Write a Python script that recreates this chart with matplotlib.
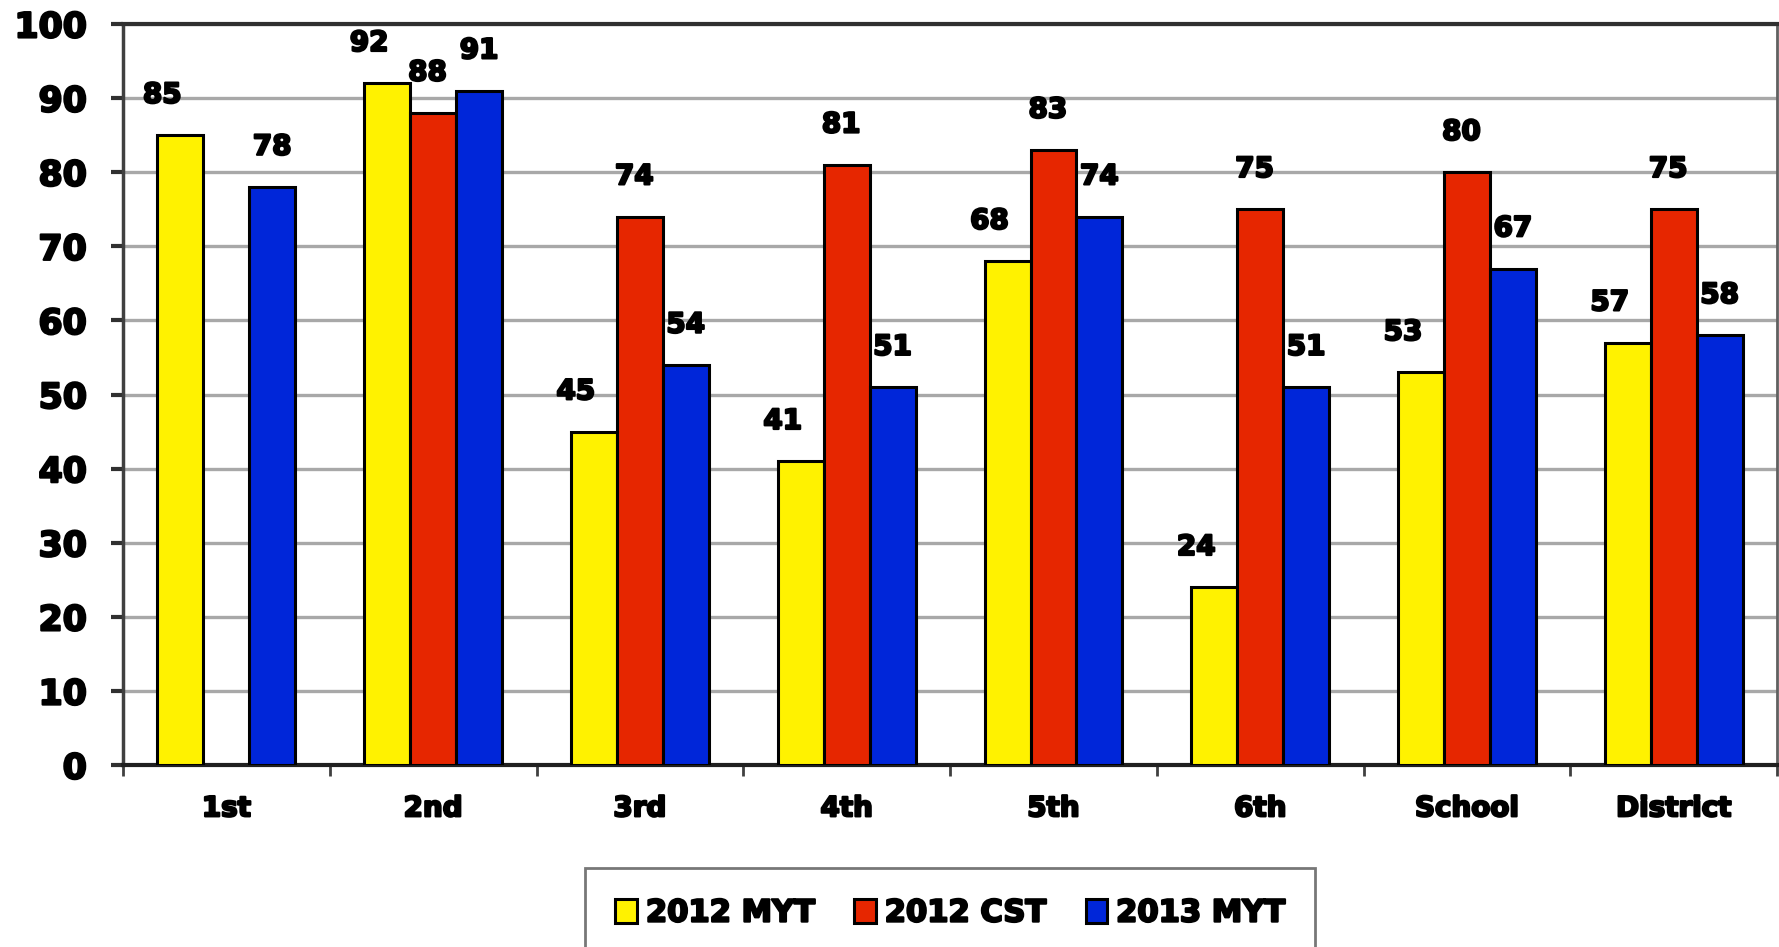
import matplotlib.pyplot as plt
import matplotlib.patheffects as pe
import numpy as np

categories = ['1st', '2nd', '3rd', '4th', '5th', '6th', 'School', 'District']
myt_2012 = [85, 92, 45, 41, 68, 24, 53, 57]
cst_2012 = [np.nan, 88, 74, 81, 83, 75, 80, 75]
myt_2013 = [78, 91, 54, 51, 74, 51, 67, 58]
series_names = ['2012 MYT', '2012 CST', '2013 MYT']
colors = ['#FFF200', '#E62600', '#0026D9']

plt.rcParams['font.family'] = 'DejaVu Sans'
plt.rcParams['font.weight'] = 'bold'

# thicken the text a little, the original uses a very heavy face
heavy = [pe.withStroke(linewidth=1.6, foreground='black')]

fig = plt.figure(figsize=(17.79, 9.47), dpi=100)
ax = fig.add_axes([0.0691, 0.192, 0.9299, 0.7827])

x = np.arange(len(categories)) + 0.5
width = 0.222
series = [myt_2012, cst_2012, myt_2013]
# label offsets in points (the original labels sit a bit left of the bars)
label_dx = [-13, -4, 0]

for i, (vals, name, c) in enumerate(zip(series, series_names, colors)):
    pos = x + (i - 1) * width
    ax.bar(pos, vals, width, color=c, edgecolor='black', linewidth=2.2,
           label=name, zorder=3)
    for px, v in zip(pos, vals):
        if np.isnan(v):
            continue
        ax.annotate(f'{v:.0f}', (px, v), xytext=(label_dx[i], 29),
                    textcoords='offset points', ha='center', va='center',
                    fontsize=20, fontweight='bold', zorder=4,
                    path_effects=heavy)

ax.set_xlim(0, len(categories))
ax.set_ylim(0, 100)
ax.set_yticks(np.arange(0, 101, 10))
ax.set_xticks(np.arange(0, len(categories) + 1))
ax.set_xticklabels([])
ax.set_xticks(x, minor=True)
ax.set_xticklabels(categories, minor=True, fontsize=20, fontweight='bold')
ax.tick_params(axis='x', which='minor', length=0, pad=21)
ax.tick_params(axis='x', which='major', length=8, width=2, color='#404040',
               direction='out')
ax.tick_params(axis='y', length=9, width=3, color='#303030', pad=17,
               labelsize=25)
for lab in ax.get_yticklabels() + ax.get_xticklabels(minor=True):
    lab.set_fontweight('bold')
    lab.set_path_effects(heavy)

ax.grid(axis='y', color='#A8A8A8', linewidth=2.4, zorder=0)
ax.set_axisbelow(True)

ax.spines['left'].set_color('#404040')
ax.spines['left'].set_linewidth(2.5)
ax.spines['bottom'].set_color('#202020')
ax.spines['bottom'].set_linewidth(3)
ax.spines['top'].set_color('#303030')
ax.spines['top'].set_linewidth(3)
ax.spines['right'].set_color('#606060')
ax.spines['right'].set_linewidth(2)

leg = fig.legend(loc='upper center', bbox_to_anchor=(0.534, 0.0834), ncol=3,
                 frameon=True, fancybox=False, prop={'size': 22, 'weight': 'bold'},
                 handlelength=0.7, handleheight=0.85, handletextpad=0.3,
                 columnspacing=1.3, borderpad=1.0, borderaxespad=0)
leg.get_frame().set_edgecolor('#555555')
leg.get_frame().set_linewidth(2)
for t in leg.get_texts():
    t.set_path_effects(heavy)

fig.savefig('out.png', dpi=100)
